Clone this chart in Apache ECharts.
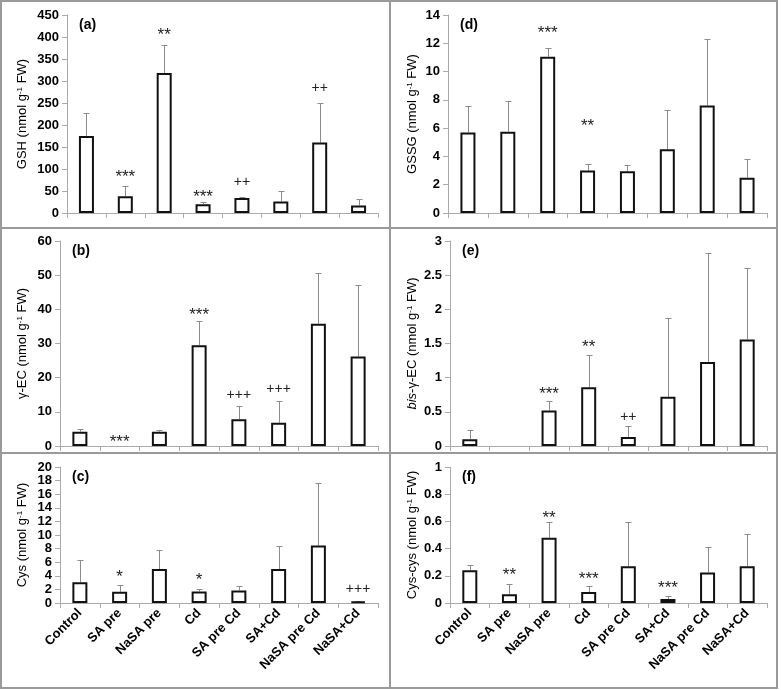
<!DOCTYPE html>
<html>
<head>
<meta charset="utf-8">
<script src="https://cdn.jsdelivr.net/npm/echarts/dist/echarts.min.js"></script>
<style>
  html, body { margin: 0; padding: 0; background: #fff; }
  #chart { width: 781px; height: 690px; }
</style>
</head>
<body>
<div id="chart"></div>
<script>
// treatments, same for all six panels
const categories = ['Control', 'SA pre', 'NaSA pre', 'Cd', 'SA pre Cd', 'SA+Cd', 'NaSA pre Cd', 'NaSA+Cd'];

// (a) GSH
const gshMean = [175, 38, 318, 20, 34, 26, 160, 17];
const gshUpper = [228, 62, 382, 25, 37, 50, 249, 32];
const gshSig = ['', '***', '**', '***', '++', '', '++', ''];
const gshSigAt = [null, 91, 414, 45, 71, null, 284, null];

// (b) gamma-EC  ('-' = no bar)
const ecMean = [4.2, '-', 4.2, 29.5, 7.8, 6.8, 35.8, 26.2];
const ecUpper = [5, '-', 4.6, 36.5, 11.7, 13.2, 50.5, 47];
const ecSig = ['', '***', '', '***', '+++', '+++', '', ''];
const ecSigAt = [null, 2.3, null, 39.5, 14.9, 16.7, null, null];

// (c) Cys
const cysMean = [3.05, 1.65, 5.0, 1.7, 1.85, 5.0, 8.45, 0.2];
const cysUpper = [6.3, 2.65, 7.75, 2.1, 2.45, 8.35, 17.7, 0.3];
const cysSig = ['', '*', '', '*', '', '', '', '+++'];
const cysSigAt = [null, 4.4, null, 3.9, null, null, null, 2.1];

// (d) GSSG
const gssgMean = [5.7, 5.75, 11.05, 3.0, 2.95, 4.5, 7.6, 2.5];
const gssgUpper = [7.55, 7.9, 11.7, 3.5, 3.4, 7.25, 12.3, 3.8];
const gssgSig = ['', '', '***', '**', '', '', '', ''];
const gssgSigAt = [null, null, 13.0, 6.4, null, null, null, null];

// (e) bis-gamma-EC
const bisMean = [0.1, '-', 0.52, 0.86, 0.13, 0.72, 1.23, 1.56];
const bisUpper = [0.24, '-', 0.66, 1.33, 0.3, 1.87, 2.83, 2.6];
const bisSig = ['', '', '***', '**', '++', '', '', ''];
const bisSigAt = [null, null, 0.81, 1.5, 0.42, null, null, null];

// (f) Cys-cys
const ccMean = [0.24, 0.065, 0.48, 0.08, 0.27, 0.03, 0.225, 0.27];
const ccUpper = [0.28, 0.14, 0.595, 0.125, 0.595, 0.055, 0.41, 0.505];
const ccSig = ['', '**', '**', '***', '', '***', '', ''];
const ccSigAt = [null, 0.23, 0.655, 0.2, null, 0.137, null, null];

const FONT = 'Liberation Sans, Arial, sans-serif';

const panels = [
  { tag: '(a)', name: 'GSH (nmol g{sup|-1} FW)', mean: gshMean, upper: gshUpper, sig: gshSig, sigAt: gshSigAt,
    max: 450, interval: 50, grid: { left: 67, top: 15, width: 311, height: 198 }, nameGap: 38, labels: false },
  { tag: '(b)', name: 'γ-EC (nmol g{sup|-1} FW)', mean: ecMean, upper: ecUpper, sig: ecSig, sigAt: ecSigAt,
    max: 60, interval: 10, grid: { left: 60, top: 241, width: 318, height: 205 }, nameGap: 31, labels: false },
  { tag: '(c)', name: 'Cys (nmol g{sup|-1} FW)', mean: cysMean, upper: cysUpper, sig: cysSig, sigAt: cysSigAt,
    max: 20, interval: 2, grid: { left: 60, top: 467, width: 318, height: 136 }, nameGap: 31, labels: true },
  { tag: '(d)', name: 'GSSG (nmol g{sup|-1} FW)', mean: gssgMean, upper: gssgUpper, sig: gssgSig, sigAt: gssgSigAt,
    max: 14, interval: 2, grid: { left: 448, top: 15, width: 319, height: 198 }, nameGap: 29, labels: false },
  { tag: '(e)', name: '{i|bis}-γ-EC (nmol g{sup|-1} FW)', mean: bisMean, upper: bisUpper, sig: bisSig, sigAt: bisSigAt,
    max: 3, interval: 0.5, grid: { left: 450, top: 241, width: 317, height: 205 }, nameGap: 31, labels: false },
  { tag: '(f)', name: 'Cys-cys (nmol g{sup|-1} FW)', mean: ccMean, upper: ccUpper, sig: ccSig, sigAt: ccSigAt,
    max: 1, interval: 0.2, grid: { left: 450, top: 467, width: 317, height: 136 }, nameGap: 31, labels: true }
];

const chart = echarts.init(document.getElementById('chart'));

const grids = [], xAxes = [], yAxes = [], series = [], graphics = [];

panels.forEach(function (p, k) {
  grids.push(p.grid);

  xAxes.push({
    type: 'category',
    gridIndex: k,
    data: categories,
    axisLine: { lineStyle: { color: '#aaa' } },
    axisTick: { show: true, length: 5, lineStyle: { color: '#aaa' } },
    axisLabel: {
      show: p.labels, rotate: 45, interval: 0, margin: 8,
      color: '#000', fontWeight: 'bold', fontSize: 13, fontFamily: FONT
    },
    splitLine: { show: false }
  });

  yAxes.push({
    type: 'value',
    gridIndex: k,
    min: 0,
    max: p.max,
    interval: p.interval,
    name: p.name,
    nameLocation: 'middle',
    nameGap: p.nameGap,
    nameTextStyle: {
      color: '#000', fontSize: 13, fontFamily: FONT,
      rich: {
        sup: { fontSize: 8, verticalAlign: 'top', fontFamily: FONT, color: '#000', lineHeight: 10 },
        i: { fontStyle: 'italic', fontSize: 13, fontFamily: FONT, color: '#000' }
      }
    },
    axisLine: { show: true, lineStyle: { color: '#aaa' } },
    axisTick: { show: true, length: 5, lineStyle: { color: '#aaa' } },
    axisLabel: { color: '#000', fontWeight: 'bold', fontSize: 13, fontFamily: FONT, margin: 8 },
    splitLine: { show: false }
  });

  // bars
  series.push({
    type: 'bar',
    xAxisIndex: k,
    yAxisIndex: k,
    data: p.mean,
    barWidth: 15,
    itemStyle: { color: '#fff', borderColor: '#111', borderWidth: 2 },
    z: 3
  });

  // upper error bars
  const errData = [];
  p.mean.forEach(function (m, i) {
    if (m !== '-' && p.upper[i] !== '-') errData.push([i, m, p.upper[i]]);
  });
  series.push({
    type: 'custom',
    xAxisIndex: k,
    yAxisIndex: k,
    data: errData,
    z: 2,
    renderItem: function (params, api) {
      const a = api.coord([api.value(0), api.value(1)]);
      const b = api.coord([api.value(0), api.value(2)]);
      const x = Math.round(a[0]) + 0.5;
      const y = Math.round(b[1]) + 0.5;
      return {
        type: 'group',
        children: [
          { type: 'line', shape: { x1: x, y1: a[1], x2: x, y2: y }, style: { stroke: '#8c8c8c', lineWidth: 1 } },
          { type: 'line', shape: { x1: x - 3, y1: y, x2: x + 3, y2: y }, style: { stroke: '#8c8c8c', lineWidth: 1 } }
        ]
      };
    }
  });

  // significance marks
  const sigData = [];
  p.sig.forEach(function (s, i) {
    if (s) sigData.push([i, p.sigAt[i]]);
  });
  series.push({
    type: 'custom',
    xAxisIndex: k,
    yAxisIndex: k,
    data: sigData,
    z: 4,
    renderItem: function (params, api) {
      const i = api.value(0);
      const s = p.sig[i];
      const c = api.coord([i, api.value(1)]);
      const star = s.indexOf('*') >= 0;
      return {
        type: 'text',
        x: c[0],
        y: c[1] + (star ? 4 : 0),
        style: {
          text: s, fill: '#222', fontSize: star ? 17 : 14, fontFamily: FONT,
          align: 'center', verticalAlign: 'middle'
        }
      };
    }
  });

  // panel letter
  graphics.push({
    type: 'text',
    left: p.grid.left + 12,
    top: p.grid.top + 3,
    style: { text: p.tag, fill: '#000', font: 'bold 14px ' + FONT }
  });
});

// panel frames
graphics.push(
  { type: 'rect', shape: { x: 1, y: 1, width: 776, height: 687 }, style: { fill: 'none', stroke: '#9a9a9a', lineWidth: 2 } },
  { type: 'line', shape: { x1: 390, y1: 1, x2: 390, y2: 688 }, style: { stroke: '#9a9a9a', lineWidth: 2 } },
  { type: 'line', shape: { x1: 1, y1: 228, x2: 777, y2: 228 }, style: { stroke: '#9a9a9a', lineWidth: 2 } },
  { type: 'line', shape: { x1: 1, y1: 453, x2: 777, y2: 453 }, style: { stroke: '#9a9a9a', lineWidth: 2 } }
);

chart.setOption({
  animation: false,
  backgroundColor: '#fff',
  grid: grids,
  xAxis: xAxes,
  yAxis: yAxes,
  series: series,
  graphic: graphics
});
</script>
</body>
</html>
